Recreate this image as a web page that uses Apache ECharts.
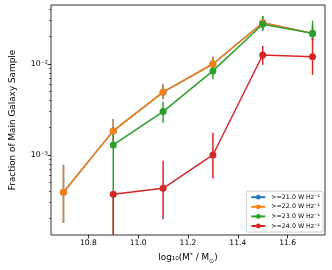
<!DOCTYPE html>
<html>
<head>
<meta charset="utf-8">
<script src="https://cdn.jsdelivr.net/npm/echarts@6/dist/echarts.min.js"></script>
<style>
html,body{margin:0;padding:0;background:#fff;}
#c{width:332px;height:270px;}
</style>
</head>
<body>
<div id="c"></div>
<script>
var masses = [10.7, 10.9, 11.1, 11.3, 11.5, 11.7];
var xTicks = [10.8, 11.0, 11.2, 11.4, 11.6];
var yMajor = [0.001, 0.01];
var yMinor = [2e-4,3e-4,4e-4,5e-4,6e-4,7e-4,8e-4,9e-4,2e-3,3e-3,4e-3,5e-3,6e-3,7e-3,8e-3,9e-3,2e-2,3e-2,4e-2];
var seriesNames = ['>=21.0 W Hz⁻¹', '>=22.0 W Hz⁻¹', '>=23.0 W Hz⁻¹', '>=24.0 W Hz⁻¹'];
var colors = ['#1f77b4', '#ff7f0e', '#2ca02c', '#d62728'];

var frac21 = [3.9e-4, 1.84e-3, 4.9e-3, 1.0e-2, 0.0284, 0.0217];
var hi21   = [7.8e-4, 2.49e-3, 6.0e-3, 0.0120, 0.0337, 0.026];
var lo21   = [1.8e-4, 1.3e-3, 4.1e-3, 8.6e-3, 0.024, 0.018];

var frac22 = [3.9e-4, 1.84e-3, 4.9e-3, 1.0e-2, 0.0284, 0.0217];
var hi22   = [7.8e-4, 2.49e-3, 6.0e-3, 0.0120, 0.0337, 0.026];
var lo22   = [1.8e-4, 1.3e-3, 4.1e-3, 8.6e-3, 0.024, 0.018];

var frac23 = [null, 1.29e-3, 3.0e-3, 8.4e-3, 0.0273, 0.0217];
var hi23   = [null, 1.8e-3, 3.85e-3, 1.0e-2, 0.0337, 0.0299];
var lo23   = [null, 5e-5, 2.26e-3, 6.8e-3, 0.0230, 0.0184];

var frac24 = [null, 3.7e-4, 4.3e-4, 1.0e-3, 0.01256, 0.0120];
var hi24   = [null, 3.8e-4, 8.66e-4, 1.75e-3, 0.0158, 0.0193];
var lo24   = [null, 5e-5, 1.97e-4, 5.5e-4, 0.0098, 0.0076];

var groups = [[frac21, lo21, hi21], [frac22, lo22, hi22], [frac23, lo23, hi23], [frac24, lo24, hi24]];

var FONT = 'DejaVu Sans';
var YMIN = 1.32e-4, YMAX = 0.0445;

var series = [];
groups.forEach(function (g, k) {
  var lineData = [], errData = [];
  masses.forEach(function (m, i) {
    if (g[0][i] != null) {
      lineData.push([m, g[0][i]]);
      errData.push([m, g[1][i], g[2][i]]);
    }
  });
  series.push({
    type: 'custom',
    name: 'err' + k,
    xAxisIndex: 0, yAxisIndex: 0,
    clip: true,
    encode: {x: 0, y: [1, 2]},
    data: errData,
    z: 2,
    renderItem: function (params, api) {
      var p1 = api.coord([api.value(0), api.value(1)]);
      var p2 = api.coord([api.value(0), api.value(2)]);
      var bottom = params.coordSys.y + params.coordSys.height;
      var top = params.coordSys.y;
      var y1 = Math.min(Math.max(p1[1], top), bottom);
      var y2 = Math.min(Math.max(p2[1], top), bottom);
      return {type: 'line', shape: {x1: p1[0], y1: y1, x2: p2[0], y2: y2},
        style: {stroke: colors[k], lineWidth: 1.5}};
    }
  });
  series.push({
    type: 'line',
    name: seriesNames[k],
    xAxisIndex: 0, yAxisIndex: 0,
    data: lineData,
    symbol: 'circle',
    symbolSize: 7,
    showAllSymbol: true,
    z: 2,
    lineStyle: {color: colors[k], width: 1.5},
    itemStyle: {color: colors[k]},
    emphasis: {disabled: true}
  });
});

var chart = echarts.init(document.getElementById('c'), null, {renderer: 'canvas'});
chart.setOption({
  animation: false,
  backgroundColor: '#fff',
  textStyle: {fontFamily: FONT},
  grid: {left: 43, right: 7, top: 5, bottom: 35, show: true, borderColor: '#333', borderWidth: 1, backgroundColor: 'transparent'},
  legend: {
    data: seriesNames,
    orient: 'vertical',
    right: 9, bottom: 38,
    backgroundColor: 'rgba(255,255,255,0.8)',
    borderColor: '#ccc', borderWidth: 1, borderRadius: 2,
    padding: [3, 3, 3, 4],
    itemWidth: 14, itemHeight: 6, itemGap: 3.6,
    textStyle: {fontFamily: FONT, fontSize: 6.3, color: '#000', padding: [0, 0, 0, 1]}
  },
  xAxis: {
    type: 'value', min: 10.65, max: 11.75,
    name: '{a|log₁₀(M}{s|*}{a| / M}{b|⊙}{a|)}',
    nameLocation: 'middle', nameGap: 17,
    nameTextStyle: {fontFamily: FONT, color: '#000', rich: {
      a: {fontSize: 8.8, fontFamily: FONT, color: '#000', lineHeight: 12},
      s: {fontSize: 6.2, fontFamily: FONT, color: '#000', verticalAlign: 'top', lineHeight: 12},
      b: {fontSize: 6.2, fontFamily: FONT, color: '#000', verticalAlign: 'bottom', lineHeight: 12}
    }},
    axisLine: {show: false},
    splitLine: {show: false},
    axisTick: {show: true, customValues: xTicks, length: 3.5, lineStyle: {color: '#000', width: 0.8}},
    axisLabel: {customValues: xTicks, fontFamily: FONT, fontSize: 7.6, color: '#000', margin: 4,
      formatter: function (v) { return v.toFixed(1); }}
  },
  yAxis: [{
    type: 'log', min: YMIN, max: YMAX, logBase: 10,
    name: 'Fraction of Main Galaxy Sample',
    nameLocation: 'middle', nameGap: 34,
    nameTextStyle: {fontFamily: FONT, fontSize: 8.9, color: '#000'},
    axisLine: {show: false},
    splitLine: {show: false},
    axisTick: {show: true, customValues: yMajor, length: 3.5, lineStyle: {color: '#000', width: 0.8}},
    axisLabel: {customValues: yMajor, fontFamily: FONT, fontSize: 7.8, color: '#000', margin: 3,
      formatter: function (v) { return Math.abs(v - 0.01) < 1e-9 ? '10⁻²' : '10⁻³'; }}
  }, {
    type: 'log', min: YMIN, max: YMAX, logBase: 10, position: 'left',
    axisLine: {show: false},
    splitLine: {show: false},
    axisLabel: {show: false},
    axisTick: {show: true, customValues: yMinor, length: 2, lineStyle: {color: '#000', width: 0.6}}
  }],
  series: series
});
</script>
</body>
</html>
